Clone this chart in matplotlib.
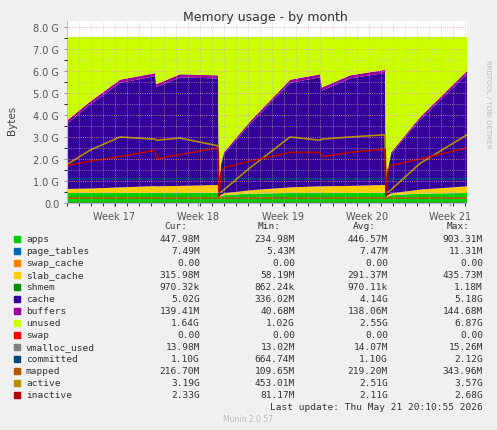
import numpy as np
import matplotlib
matplotlib.use("Agg")
import matplotlib.pyplot as plt

# time in days from the left edge of the plot
days = [0, 1.9, 4.39, 7.29, 7.41, 9.36, 12.51, 12.59, 12.76, 13.0, 15.16, 18.48,
        20.97, 21.13, 23.45, 26.35, 26.43, 26.6, 26.85, 29.25, 33.14]
apps = [0.45, 0.45, 0.45, 0.46, 0.45, 0.45, 0.46, 0.25, 0.3, 0.35, 0.42, 0.45,
        0.45, 0.45, 0.45, 0.46, 0.25, 0.3, 0.35, 0.42, 0.45]
slab_cache = [0.18, 0.2, 0.25, 0.3, 0.3, 0.32, 0.35, 0.05, 0.06, 0.08, 0.15, 0.25,
              0.3, 0.3, 0.32, 0.35, 0.05, 0.06, 0.08, 0.18, 0.3]
page_tables = [0.007] * len(days)
swap_cache = [0.0] * len(days)
shmem = [0.001] * len(days)
buffers = [0.14, 0.14, 0.14, 0.14, 0.14, 0.14, 0.14, 0.04, 0.06, 0.08, 0.12, 0.14,
           0.14, 0.14, 0.14, 0.14, 0.04, 0.06, 0.08, 0.12, 0.14]
stack_top = [3.75, 4.6, 5.6, 5.9, 5.4, 5.85, 5.8, 0.8, 1.8, 2.3, 3.7, 5.6,
             5.85, 5.25, 5.8, 6.05, 0.6, 1.6, 2.3, 3.9, 6.0]
total_ram = 7.55
active = [1.75, 2.4, 3.0, 2.9, 2.85, 2.95, 2.6, 0.5, 0.5, 0.6, 1.6, 3.0,
          2.85, 2.9, 3.0, 3.1, 0.5, 0.5, 0.6, 1.8, 3.1]
inactive = [1.7, 1.9, 2.1, 2.4, 2.0, 2.2, 2.5, 0.3, 1.4, 1.6, 1.9, 2.3,
            2.3, 2.1, 2.3, 2.45, 0.3, 1.5, 1.7, 2.0, 2.5]
committed = [1.1, 1.1, 1.1, 1.1, 1.1, 1.1, 1.1, 1.05, 1.1, 1.1, 1.1, 1.1,
             1.1, 1.1, 1.1, 1.1, 1.05, 1.1, 1.1, 1.1, 1.1]
mapped = [0.22] * len(days)
vmalloc_used = [0.014] * len(days)
swap = [0.0] * len(days)

week_labels = ["Week 17", "Week 18", "Week 19", "Week 20", "Week 21"]
week_pos = [3.9, 10.85, 17.9, 24.9, 31.75]

names = ["apps", "page_tables", "swap_cache", "slab_cache", "shmem", "cache", "buffers",
         "unused", "swap", "vmalloc_used", "committed", "mapped", "active", "inactive"]
cur = ["447.98M", "7.49M", "0.00", "315.98M", "970.32k", "5.02G", "139.41M", "1.64G",
       "0.00", "13.98M", "1.10G", "216.70M", "3.19G", "2.33G"]
mins = ["234.98M", "5.43M", "0.00", "58.19M", "862.24k", "336.02M", "40.68M", "1.02G",
        "0.00", "13.02M", "664.74M", "109.65M", "453.01M", "81.17M"]
avgs = ["446.57M", "7.47M", "0.00", "291.37M", "970.11k", "4.14G", "138.06M", "2.55G",
        "0.00", "14.07M", "1.10G", "219.20M", "2.51G", "2.11G"]
maxs = ["903.31M", "11.31M", "0.00", "435.73M", "1.18M", "5.18G", "144.68M", "6.87G",
        "0.00", "15.26M", "2.12G", "343.96M", "3.57G", "2.68G"]
colors = ["#00CC00", "#0066B3", "#FF8000", "#FFCC00", "#008F00", "#330099", "#990099",
          "#CCFF00", "#FF0000", "#808080", "#00487D", "#B35A00", "#B38F00", "#B30000"]

d = np.array(days)
base = np.array(apps) + np.array(page_tables) + np.array(swap_cache) + np.array(slab_cache) + np.array(shmem)
cache = np.array(stack_top) - np.array(buffers) - base
unused = total_ram - np.array(stack_top)
layers = [np.array(apps), np.array(page_tables), np.array(swap_cache), np.array(slab_cache),
          np.array(shmem), cache, np.array(buffers), unused]

W, H = 497, 431
fig = plt.figure(figsize=(W / 100, H / 100), dpi=100, facecolor="#F0F0F0")
ax = fig.add_axes([67 / W, 1 - 204 / H, 400 / W, 182 / H], facecolor="white")
ax.stackplot(d, *layers, colors=colors[:8], linewidth=0)
ax.plot(d, swap, color=colors[8], lw=1)
ax.plot(d, vmalloc_used, color=colors[9], lw=1)
ax.plot(d, committed, color=colors[10], lw=1.2)
ax.plot(d, mapped, color=colors[11], lw=1.2)
ax.plot(d, active, color=colors[12], lw=1.2)
ax.plot(d, inactive, color=colors[13], lw=1.2)
ax.set_xlim(0, 33.14)
ax.set_ylim(0, 8.27)
yt = np.arange(0, 9)
ax.set_yticks(yt)
ax.set_yticklabels(["0.0"] + [f"{v:.1f} G" for v in yt[1:]], fontsize=7, color="#555555")
ax.set_xticks(week_pos)
ax.set_xticklabels(week_labels, fontsize=7, color="#555555")
ax.set_xticks(np.arange(0, 34, 1), minor=True)
ax.set_yticks(np.arange(0, 8.3, 0.5), minor=True)
ax.grid(which="minor", color="#BBBBBB", ls=":", lw=0.5)
ax.grid(which="major", axis="y", color="#E0A0A0", ls=":", lw=0.6)
ax.tick_params(length=2, colors="#999999", labelcolor="#555555")
ax.set_axisbelow(False)
for s in ["top", "right"]:
    ax.spines[s].set_visible(False)
for s in ["left", "bottom"]:
    ax.spines[s].set_color("#BBBBFF")

fig.text(265 / W, 1 - 18 / H, "Memory usage - by month", ha="center", va="center",
         fontsize=9, color="#333333")
fig.text(12 / W, 1 - 120 / H, "Bytes", rotation=90, ha="center", va="center",
         fontsize=7.5, color="#444444")
fig.text(488 / W, 1 - 60 / H, "RRDTOOL / TOBI OETIKER", rotation=270, ha="center",
         va="top", fontsize=5, color="#BBBBBB")

mono = "DejaVu Sans Mono"
fs = 6.8
hy = 1 - 227 / H
for txt, xr in zip(["Cur:", "Min:", "Avg:", "Max:"], [187, 281, 376, 470]):
    fig.text(xr / W, hy, txt, ha="right", va="center", family=mono, fontsize=fs, color="#333333")
for i, n in enumerate(names):
    y = 1 - (240 + 12 * i) / H
    fig.patches.append(plt.Rectangle((14 / W, y - 3 / H), 6 / W, 6 / H, transform=fig.transFigure,
                                     color=colors[i]))
    fig.text(26 / W, y, n, ha="left", va="center", family=mono, fontsize=fs, color="#333333")
    for vals, xr in zip([cur, mins, avgs, maxs], [200, 295, 388, 483]):
        fig.text(xr / W, y, vals[i], ha="right", va="center", family=mono, fontsize=fs, color="#333333")
fig.text(483 / W, 1 - 408 / H, "Last update: Thu May 21 20:10:55 2026", ha="right", va="center",
         family=mono, fontsize=fs, color="#333333")
fig.text(248 / W, 1 - 420 / H, "Munin 2.0.57", ha="center", va="center", fontsize=5.5, color="#BBBBBB")

fig.savefig("out.png", dpi=100, facecolor=fig.get_facecolor())
